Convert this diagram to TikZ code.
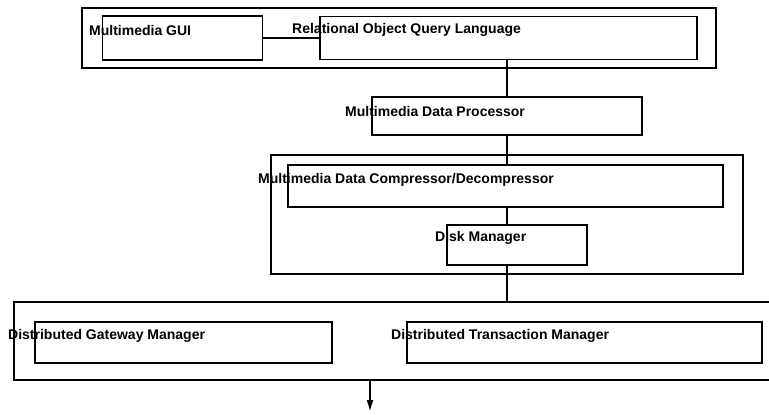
\documentclass[tikz,border=0pt]{standalone}
\usepackage{fontspec}
\setmainfont{Liberation Sans}
\usetikzlibrary{arrows.meta}
\begin{document}
\begin{tikzpicture}[x=1pt,y=-1pt,
  box/.style={draw, line width=1.8pt, inner sep=0pt, rectangle},
  lbl/.style={anchor=west, inner sep=0pt, font=\bfseries\fontsize{14}{16}\selectfont},
  conn/.style={line width=1.8pt}]
\useasboundingbox (0,0) rectangle (769,415);
% outer frames
\node[box, minimum width=634, minimum height=60] (topframe) at (399,38) {};
\node[box, minimum width=472, minimum height=119] (midframe) at (507,214.5) {};
\node[box, minimum width=780, minimum height=78] (botframe) at (404,341) {};
% inner boxes
\node[box, minimum width=160, minimum height=44] (gui) at (182.5,38) {};
\node[box, minimum width=377, minimum height=43] (roql) at (508.5,38) {};
\node[box, minimum width=270, minimum height=38] (dp) at (507,116) {};
\node[box, minimum width=435, minimum height=42] (comp) at (505.5,186) {};
\node[box, minimum width=140, minimum height=40] (disk) at (517,245) {};
\node[box, minimum width=297, minimum height=41] (gate) at (183.5,342.5) {};
\node[box, minimum width=355, minimum height=41] (trans) at (584.5,342.5) {};
% labels
\node[lbl] (tgui) at (89,30) {Multimedia GUI};
\node[lbl] (troql) at (292,30) {Relational Object Query Language};
\node[lbl] (tdp) at (345,111) {Multimedia Data Processor};
\node[lbl] (tcomp) at (258,180) {Multimedia Data Compressor/Decompressor};
\node[lbl] (tdisk) at (435,238) {Disk Manager};
\node[lbl] (tgate) at (8,336) {Distributed Gateway Manager};
\node[lbl] (ttrans) at (391,336) {Distributed Transaction Manager};
% connectors
\coordinate (cx) at (507,0);
\coordinate (bx) at (370,0);
\coordinate (bend) at (370,412);
\draw[conn] (gui.east) -- (roql.west);
\draw[conn] (roql.south -| cx) -- (dp.north -| cx);
\draw[conn] (dp.south -| cx) -- (comp.north -| cx);
\draw[conn] (comp.south -| cx) -- (disk.north -| cx);
\draw[conn] (disk.south -| cx) -- (botframe.north -| cx);
\draw[conn, -{Latex[length=12pt,width=7pt]}] (botframe.south -| bx) -- (bend);
\end{tikzpicture}
\end{document}
